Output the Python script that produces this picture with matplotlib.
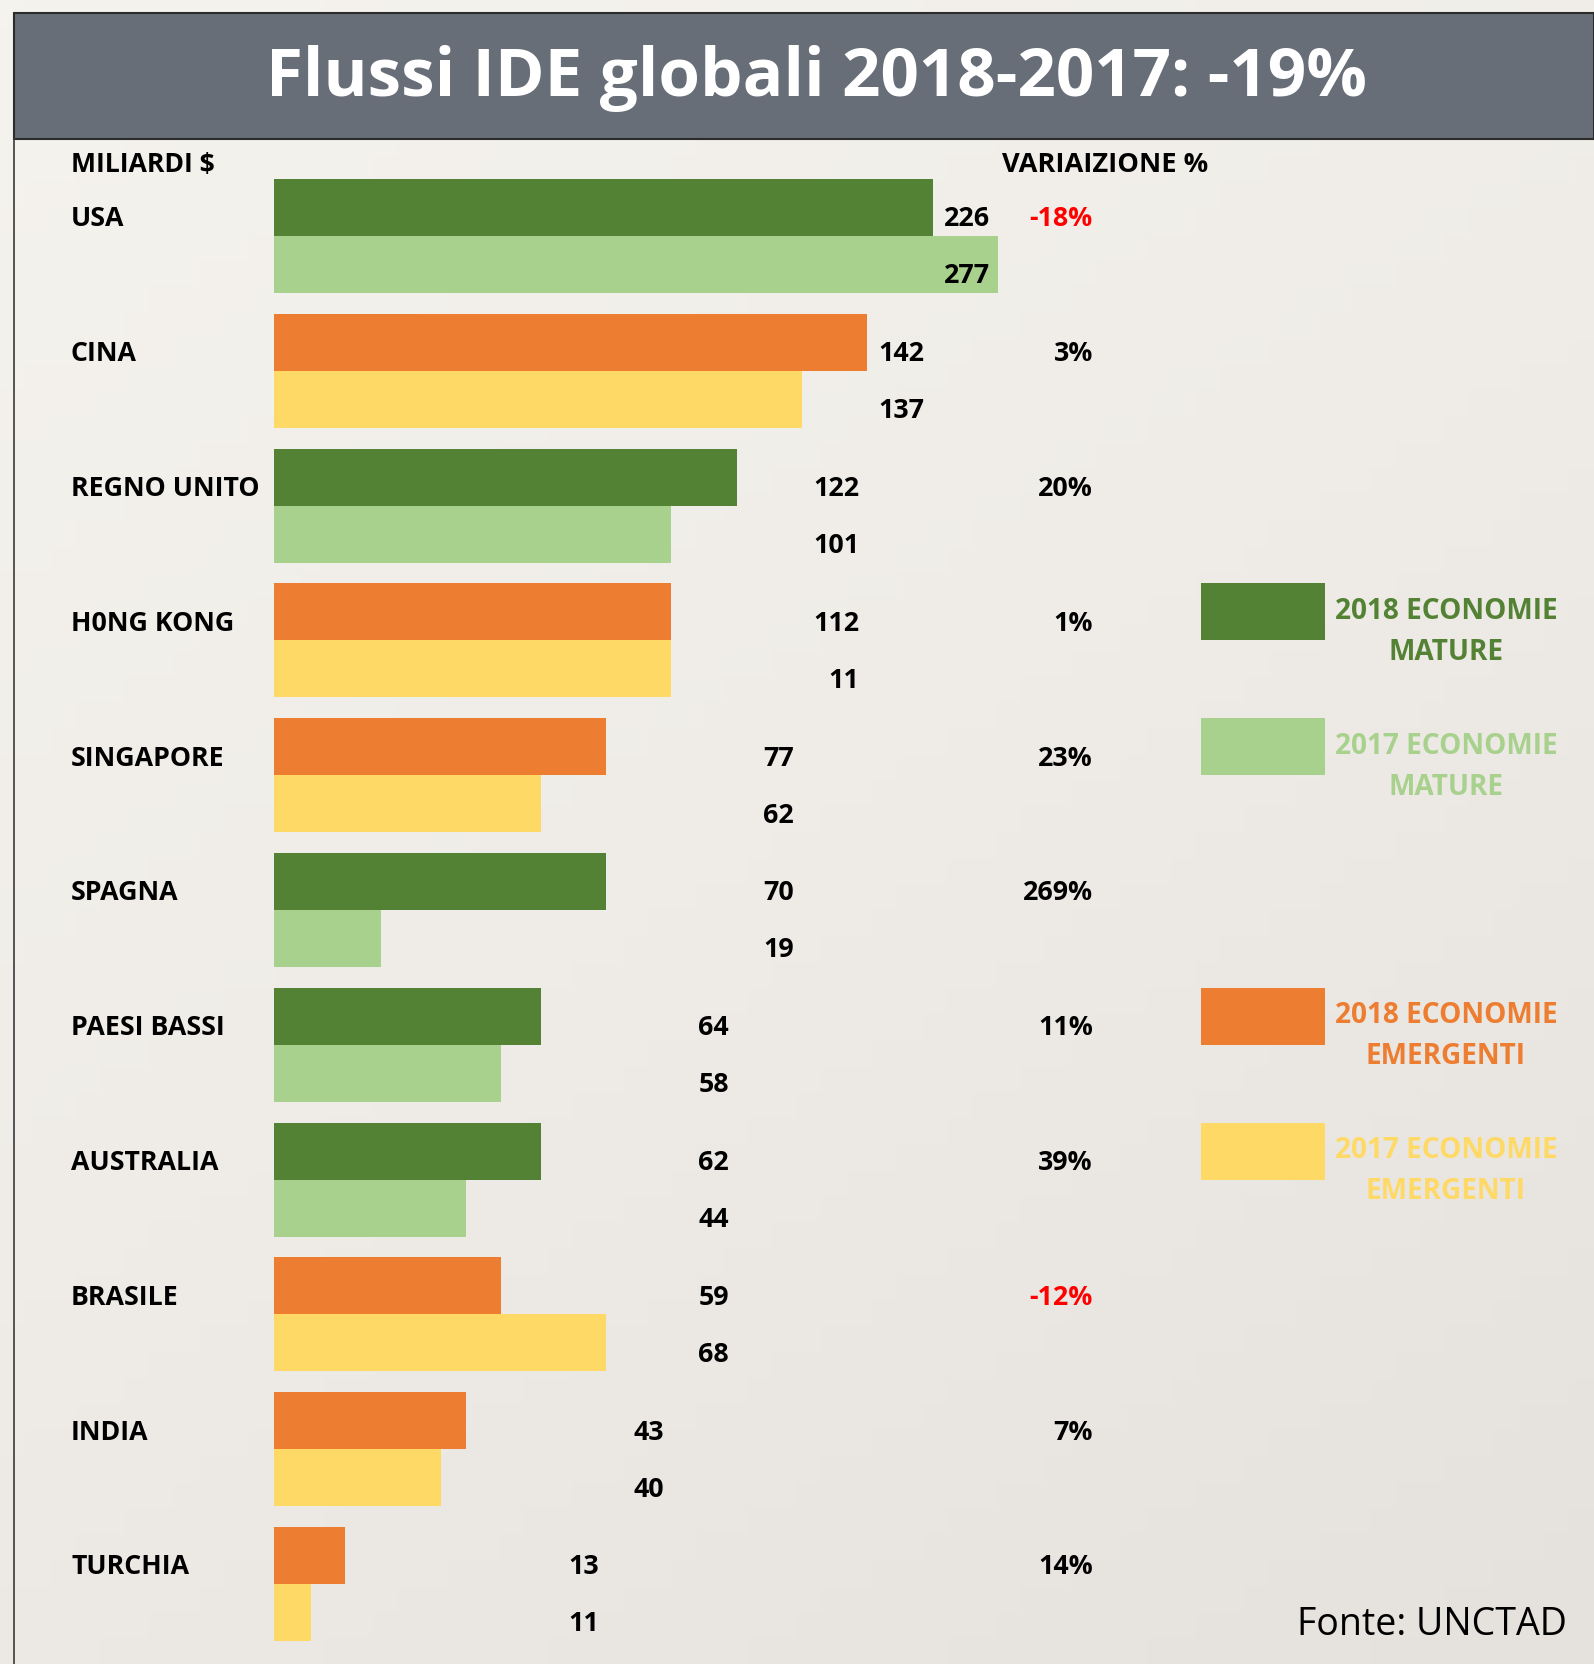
import numpy as np
import matplotlib
matplotlib.use('Agg')
import matplotlib.pyplot as plt
from matplotlib.patches import Rectangle
from matplotlib.colors import LinearSegmentedColormap

plt.rcParams['font.family'] = ['Open Sans', 'DejaVu Sans']

# dati
paesi = ['USA', 'CINA', 'REGNO UNITO', 'H0NG KONG', 'SINGAPORE', 'SPAGNA',
         'PAESI BASSI', 'AUSTRALIA', 'BRASILE', 'INDIA', 'TURCHIA']
mature = [True, False, True, False, False, True, True, True, False, False, False]
valori_2018 = [226, 142, 122, 112, 77, 70, 64, 62, 59, 43, 13]
valori_2017 = [277, 137, 101, 11, 62, 19, 58, 44, 68, 40, 11]
variazione = [-18, 3, 20, 1, 23, 269, 11, 39, -12, 7, 14]
# lunghezza delle barre come disegnate nell'originale (non proporzionali alle etichette)
barre_2018 = [252, 227, 177, 152, 127, 127, 102, 102, 87, 73.5, 27]
barre_2017 = [277, 202, 152, 152, 102, 41, 87, 73.5, 127, 64, 14]

# colori
verde_scuro = '#548235'
verde_chiaro = '#A9D18E'
arancio = '#ED7D31'
giallo = '#FFD966'

# layout (pixel della figura)
W, H = 1594, 1664
x0 = 274            # origine delle barre
unit = 2.6137       # pixel per unità
pitch = 134.8       # distanza tra i gruppi
row0 = 236          # confine 2018/2017 della prima riga
bar_h = 57 / pitch
fs = 19.3           # testo delle righe


def px2x(p):
    return (p - x0) / unit


fig = plt.figure(figsize=(W / 100, H / 100), dpi=100)

# sfondo tipo carta
bg = fig.add_axes([0, 0, 1, 1])
bg.set_xlim(0, W)
bg.set_ylim(H, 0)
bg.axis('off')
cmap = LinearSegmentedColormap.from_list('carta', ['#F5F3EE', '#EFECE7', '#E5E2DD'])
grad = np.add.outer(np.linspace(0, 1, 64), np.linspace(0, 0.6, 64))
bg.imshow(grad, extent=(0, W, H, 0), aspect='auto', cmap=cmap, zorder=0)

# barra del titolo
bg.add_patch(Rectangle((14, 13), W - 14, 126, facecolor='#676E77',
                       edgecolor='#2b2b2b', linewidth=1.5, zorder=2))
bg.plot([14, 14], [139, H], color='#3a3a3a', linewidth=1.2, zorder=2)
bg.text(817, 96, 'Flussi IDE globali 2018-2017: -19%', ha='center', va='baseline',
        fontsize=48.5, fontweight='bold', color='white', zorder=3)

bg.text(71, 172, 'MILIARDI $', ha='left', va='baseline', fontsize=19.2, fontweight='bold')
bg.text(1002, 172, 'VARIAIZIONE %', ha='left', va='baseline', fontsize=19.6, fontweight='bold')
bg.text(1567, 1635, 'Fonte: UNCTAD', ha='right', va='baseline', fontsize=27)

# grafico a barre
y_top, y_bot = -0.5, 10.5
top_px = row0 + y_top * pitch
bot_px = row0 + y_bot * pitch
ax = fig.add_axes([x0 / W, (H - bot_px) / H, (W - x0) / W, (bot_px - top_px) / H])
ax.set_xlim(0, (W - x0) / unit)
ax.set_ylim(y_bot, y_top)
ax.axis('off')

righe = np.arange(len(paesi))
col_2018 = [verde_scuro if m else arancio for m in mature]
col_2017 = [verde_chiaro if m else giallo for m in mature]
ax.barh(righe - bar_h / 2, barre_2018, height=bar_h, color=col_2018, zorder=2)
ax.barh(righe + bar_h / 2, barre_2017, height=bar_h, color=col_2017, zorder=2)

# posizione (bordo destro) delle etichette dei valori, come nell'originale
label_px = [990, 924, 859, 859, 794, 794, 729, 729, 729, 664, 599]
off = 19 / pitch
for i, paese in enumerate(paesi):
    c18 = i - bar_h / 2
    c17 = i + bar_h / 2
    ax.text(px2x(71), c18 + off, paese, ha='left', va='baseline',
            fontsize=fs, fontweight='bold', clip_on=False)
    ax.text(px2x(label_px[i]), c18 + off, str(valori_2018[i]), ha='right',
            va='baseline', fontsize=fs, fontweight='bold', zorder=3)
    ax.text(px2x(label_px[i]), c17 + off, str(valori_2017[i]), ha='right',
            va='baseline', fontsize=fs, fontweight='bold', zorder=3)
    ax.text(px2x(1093), c18 + off, f'{variazione[i]}%', ha='right', va='baseline',
            fontsize=fs, fontweight='bold',
            color='#FF0000' if variazione[i] < 0 else 'black')

# legenda
legenda = [(3, verde_scuro, '2018 ECONOMIE', 'MATURE'),
           (4, verde_chiaro, '2017 ECONOMIE', 'MATURE'),
           (6, arancio, '2018 ECONOMIE', 'EMERGENTI'),
           (7, giallo, '2017 ECONOMIE', 'EMERGENTI')]
for r, col, riga1, riga2 in legenda:
    ax.add_patch(Rectangle((px2x(1201), r - bar_h), 124 / unit, bar_h,
                           facecolor=col, edgecolor='none', clip_on=False))
    cy = r - bar_h / 2
    ax.text(px2x(1446), cy + 7 / pitch, riga1, ha='center', va='baseline',
            fontsize=20.2, fontweight='bold', color=col, clip_on=False)
    ax.text(px2x(1446), cy + 48 / pitch, riga2, ha='center', va='baseline',
            fontsize=20.2, fontweight='bold', color=col, clip_on=False)

plt.savefig('out.png', dpi=100)
